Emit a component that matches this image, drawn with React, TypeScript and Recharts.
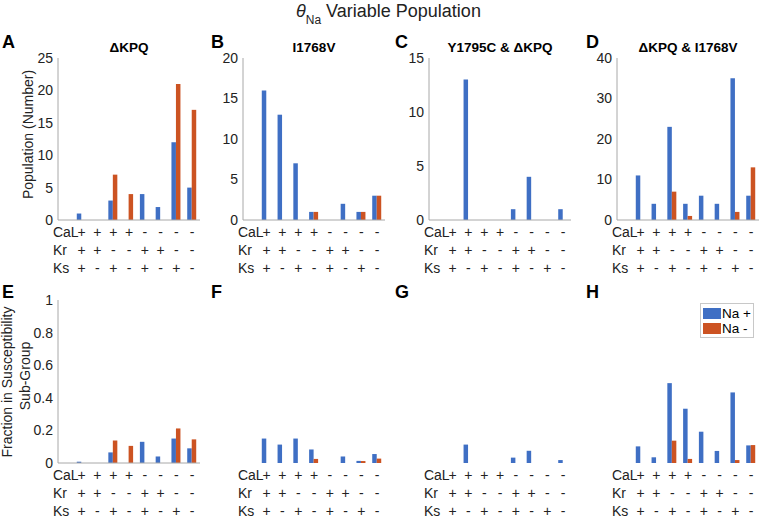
import { BarChart, Bar, XAxis, YAxis } from "recharts";

// x tick label rows (first column holds the row name)
const CAL_ROW = ["CaL", "+", "+", "+", "+", "-", "-", "-", "-"];
const KR_ROW = ["Kr", "+", "+", "-", "-", "+", "+", "-", "-"];
const KS_ROW = ["Ks", "+", "-", "+", "-", "+", "-", "+", "-"];

// population counts (top row)
const A_POS = [0, 1, 0, 3, 0, 4, 2, 12, 5];
const A_NEG = [0, 0, 0, 7, 4, 0, 0, 21, 17];
const B_POS = [0, 16, 13, 7, 1, 0, 2, 1, 3];
const B_NEG = [0, 0, 0, 0, 1, 0, 0, 1, 3];
const C_POS = [0, 0, 13, 0, 0, 1, 4, 0, 1];
const C_NEG = [0, 0, 0, 0, 0, 0, 0, 0, 0];
const D_POS = [0, 11, 4, 23, 4, 6, 4, 35, 6];
const D_NEG = [0, 0, 0, 7, 1, 0, 0, 2, 13];

// fractions (bottom row)
const E_POS = [0, 0.008, 0, 0.065, 0, 0.13, 0.04, 0.15, 0.09];
const E_NEG = [0, 0, 0, 0.138, 0.105, 0, 0, 0.212, 0.145];
const F_POS = [0, 0.15, 0.113, 0.15, 0.083, 0, 0.04, 0.013, 0.055];
const F_NEG = [0, 0, 0, 0, 0.025, 0, 0, 0.012, 0.027];
const G_POS = [0, 0, 0.113, 0, 0, 0.033, 0.075, 0, 0.018];
const G_NEG = [0, 0, 0, 0, 0, 0, 0, 0, 0];
const H_POS = [0, 0.102, 0.035, 0.49, 0.333, 0.192, 0.074, 0.433, 0.108];
const H_NEG = [0, 0, 0, 0.137, 0.025, 0, 0, 0.018, 0.11];

const BLUE = "#3f6fc4";
const ORANGE = "#cc5322";
const AXIS = "#a8a8a8";
const INK = "#222";
const FONT = "'Liberation Sans', Arial, Helvetica, sans-serif";

const PLOT_W = 142;
const Y_W = 45;
const PAD_TOP = 8;
const PAD_RIGHT = 6;
const X_H = 60;

function makeRows(pos: number[], neg: number[]) {
  return pos.map((v, i) => ({ id: i, pos: v, neg: neg[i] }));
}

function RowTick(props: any) {
  const { x, payload, base } = props;
  const i = payload.value;
  return (
    <g>
      {[CAL_ROW, KR_ROW, KS_ROW].map((row, r) => (
        <text
          key={r}
          x={i === 0 ? x - 13 : x}
          y={base + 12 + r * 18}
          dy="0.35em"
          textAnchor={i === 0 ? "start" : "middle"}
          fontSize={14}
          fill={INK}
        >
          {row[i]}
        </text>
      ))}
    </g>
  );
}

function Panel({ left, top, plotH, pos, neg, max, ticks, showY, baseLine }: any) {
  const data = makeRows(pos, neg);
  const base = PAD_TOP + plotH;
  return (
    <div style={{ position: "absolute", left: left - Y_W, top: top - PAD_TOP }}>
      <BarChart
        width={Y_W + PLOT_W + PAD_RIGHT}
        height={PAD_TOP + plotH + X_H}
        data={data}
        margin={{ top: PAD_TOP, right: PAD_RIGHT, bottom: 0, left: showY ? 0 : Y_W }}
        barGap={0}
        barSize={4.5}
      >
        <XAxis
          dataKey="id"
          type="category"
          interval={0}
          height={X_H}
          tickLine={false}
          axisLine={baseLine ? { stroke: AXIS } : false}
          tick={(p: any) => <RowTick {...p} base={base} />}
        />
        <YAxis
          hide={!showY}
          type="number"
          domain={[0, max]}
          ticks={ticks}
          interval={0}
          width={Y_W}
          tickLine={false}
          tickSize={3}
          tickMargin={2}
          axisLine={{ stroke: AXIS }}
          tick={{ fontSize: 14, fill: INK }}
        />
        <Bar dataKey="pos" fill={BLUE} isAnimationActive={false} />
        <Bar dataKey="neg" fill={ORANGE} isAnimationActive={false} />
      </BarChart>
    </div>
  );
}

const COLS = [58, 243, 429, 617];
const TOP_Y = 58;
const BOT_Y = 300;

export default function App() {
  return (
    <div
      style={{
        position: "absolute",
        left: 0,
        top: 0,
        width: 760,
        height: 519,
        background: "#fff",
        fontFamily: FONT,
        overflow: "hidden",
      }}
    >
      <Panel left={COLS[0]} top={TOP_Y} plotH={162} pos={A_POS} neg={A_NEG} max={25} ticks={[0, 5, 10, 15, 20, 25]} showY baseLine />
      <Panel left={COLS[1]} top={TOP_Y} plotH={162} pos={B_POS} neg={B_NEG} max={20} ticks={[0, 5, 10, 15, 20]} showY baseLine />
      <Panel left={COLS[2]} top={TOP_Y} plotH={162} pos={C_POS} neg={C_NEG} max={15} ticks={[0, 5, 10, 15]} showY baseLine />
      <Panel left={COLS[3]} top={TOP_Y} plotH={162} pos={D_POS} neg={D_NEG} max={40} ticks={[0, 10, 20, 30, 40]} showY baseLine />

      <Panel left={COLS[0]} top={BOT_Y} plotH={163} pos={E_POS} neg={E_NEG} max={1} ticks={[0, 0.2, 0.4, 0.6, 0.8, 1]} showY baseLine />
      <Panel left={COLS[1]} top={BOT_Y} plotH={163} pos={F_POS} neg={F_NEG} max={1} showY={false} baseLine={false} />
      <Panel left={COLS[2]} top={BOT_Y} plotH={163} pos={G_POS} neg={G_NEG} max={1} showY={false} baseLine={false} />
      <Panel left={COLS[3]} top={BOT_Y} plotH={163} pos={H_POS} neg={H_NEG} max={1} showY={false} baseLine={false} />

      {/* titles, panel letters, y labels */}
      <svg
        width={760}
        height={519}
        style={{ position: "absolute", left: 0, top: 0, pointerEvents: "none" }}
        fontFamily={FONT}
      >
        <text x={296} y={17} fontSize={18} fill={INK}>
          <tspan fontStyle="italic">θ</tspan>
          <tspan fontSize={12} dy={7}>Na</tspan>
          <tspan dy={-7}> Variable Population</tspan>
        </text>

        {["A", "B", "C", "D"].map((l, i) => (
          <text key={l} x={[2, 211, 395, 586][i]} y={48} fontSize={18} fontWeight="bold" fill="#000">
            {l}
          </text>
        ))}
        {["E", "F", "G", "H"].map((l, i) => (
          <text key={l} x={[2, 211, 395, 586][i]} y={298} fontSize={18} fontWeight="bold" fill="#000">
            {l}
          </text>
        ))}

        {["ΔKPQ", "I1768V", "Y1795C & ΔKPQ", "ΔKPQ & I1768V"].map((t, i) => (
          <text key={t} x={COLS[i] + PLOT_W / 2} y={52} textAnchor="middle" fontSize={13.5} fontWeight="bold" fill="#000">
            {t}
          </text>
        ))}

        <text x={33} y={134.5} textAnchor="middle" fontSize={14} fill={INK} transform="rotate(-90, 33, 134.5)">
          Population (Number)
        </text>
        <text x={12} y={382} textAnchor="middle" fontSize={14} fill={INK} transform="rotate(-90, 12, 382)">
          Fraction in Susceptibility
        </text>
        <text x={30} y={376} textAnchor="middle" fontSize={14} fill={INK} transform="rotate(-90, 30, 376)">
          Sub-Group
        </text>
      </svg>

      {/* legend */}
      <div
        style={{
          position: "absolute",
          left: 700,
          top: 303,
          width: 54,
          height: 35,
          boxSizing: "border-box",
          border: "1px solid #c8c8c8",
          background: "#fff",
          fontSize: 13.5,
          lineHeight: "15px",
          color: "#000",
          padding: "2px 0 0 2px",
        }}
      >
        {[
          { name: "Na +", color: BLUE },
          { name: "Na -", color: ORANGE },
        ].map((it) => (
          <div key={it.name} style={{ display: "flex", alignItems: "center", height: 15 }}>
            <span style={{ display: "inline-block", width: 18, height: 11, background: it.color, marginRight: 1 }} />
            <span>{it.name}</span>
          </div>
        ))}
      </div>
    </div>
  );
}
